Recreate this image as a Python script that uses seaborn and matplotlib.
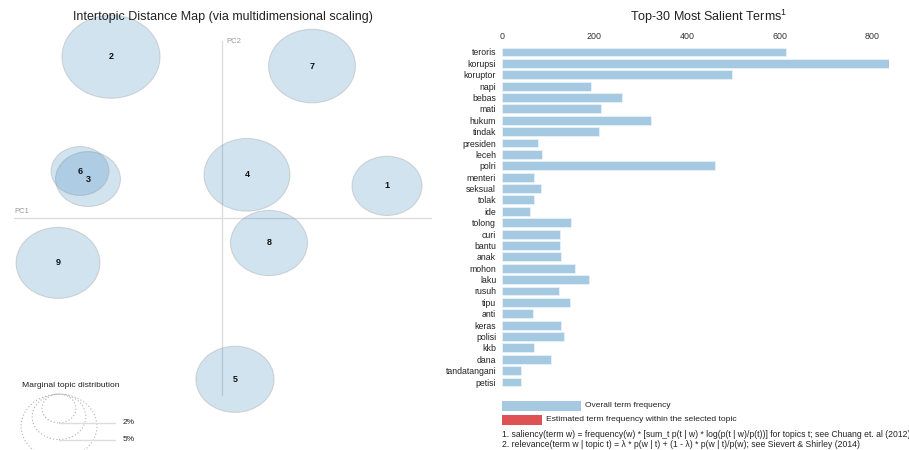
import matplotlib
matplotlib.use("Agg")
import matplotlib.pyplot as plt
from matplotlib.patches import Ellipse, Rectangle
import numpy as np
import pandas as pd
import seaborn as sns

sns.set_theme(style="white")
plt.rcParams["font.family"] = ["Liberation Sans", "DejaVu Sans"]
plt.rcParams["mathtext.fontset"] = "custom"
plt.rcParams["mathtext.rm"] = "Liberation Sans"

# topic map (PC coordinates and marginal topic share in %)
topic_ids = [1, 2, 3, 4, 5, 6, 7, 8, 9]
topic_x = [0.330, -0.222, -0.268, 0.050, 0.026, -0.284, 0.180, 0.094, -0.328]
topic_y = [0.076, 0.381, 0.092, 0.102, -0.381, 0.111, 0.359, -0.059, -0.106]
topic_pct = [8.5, 16.7, 7.3, 12.8, 10.6, 5.8, 13.1, 10.3, 12.2]

# top-30 salient terms
terms = ["teroris", "korupsi", "koruptor", "napi", "bebas", "mati", "hukum", "tindak",
         "presiden", "leceh", "polri", "menteri", "seksual", "tolak", "ide", "tolong",
         "curi", "bantu", "anak", "mohon", "laku", "rusuh", "tipu", "anti", "keras",
         "polisi", "kkb", "dana", "tandatangani", "petisi"]
term_freq = [613, 836, 498, 193, 260, 214, 322, 211, 78, 86, 460, 69, 84, 70, 60, 150,
             125, 125, 127, 158, 189, 124, 147, 67, 127, 134, 70, 106, 41, 41]
ticks = [0, 200, 400, 600, 800]
legend_pcts = [2, 5, 10]

BAR = "#a5c9e1"
RED = "#de5253"
K = 0.024  # radius per sqrt(%)

W, H = 909, 450
fig = plt.figure(figsize=(W / 100, H / 100), dpi=100)

# ---- left: intertopic distance map ----
ax = fig.add_axes([0, 0, 440 / W, 1])
ax.set_xlim(-0.444, 0.436)
ax.set_ylim(-0.548, 0.515)
ax.axis("off")

ax.plot([-0.416, 0.418], [0, 0], color="#dcdcdc", lw=1, zorder=1)
ax.plot([0, 0], [-0.418, 0.418], color="#dcdcdc", lw=1, zorder=1)
ax.text(-0.416, 0.008, "PC1", fontsize=5.5, color="#999999", ha="left", va="bottom")
ax.text(0.008, 0.418, "PC2", fontsize=5.5, color="#999999", ha="left", va="center")

for tid, x, y, p in zip(topic_ids, topic_x, topic_y, topic_pct):
    r = K * np.sqrt(p)
    ax.add_patch(Ellipse((x, y), 2 * r, 2 * r, facecolor=(0.122, 0.467, 0.706, 0.2),
                         edgecolor=(0.6, 0.6, 0.6, 0.35), lw=0.8, zorder=2))
    ax.text(x, y, str(tid), fontsize=6.5, fontweight="bold", ha="center", va="center",
            color="#111111", zorder=3)

# marginal topic distribution legend
ax.text(-0.400, -0.395, "Marginal topic distribution", fontsize=6.1, color="#222222",
        ha="left", va="center")
top = -0.416
for p in legend_pcts:
    r = K * np.sqrt(p)
    ax.add_patch(Ellipse((-0.326, top - r), 2 * r, 2 * r, fill=False, edgecolor="#b0b0b0",
                         lw=0.8, ls=(0, (1, 2))))
    if p < 10:
        ax.plot([-0.326, -0.214], [top - 2 * r, top - 2 * r], color="#dddddd", lw=1)
        ax.text(-0.198, top - 2 * r, f"{p}%", fontsize=6, color="#222222", va="center")

fig.text(223 / W, 1 - 17 / H, "Intertopic Distance Map (via multidimensional scaling)",
         fontsize=9, ha="center", va="center", color="#222222")

# ---- right: salient terms ----
df = pd.DataFrame({"term": terms, "freq": term_freq})
bx = fig.add_axes([501.7 / W, 1 - 387.7 / H, 387.4 / W, 341.4 / H])
sns.barplot(data=df, x="freq", y="term", color=BAR, saturation=1, width=0.78,
            edgecolor="#e8f1f8", linewidth=0.6, ax=bx)
bx.set_xlim(0, 836)
bx.set_xticks(ticks)
bx.set_xlabel("")
bx.set_ylabel("")
bx.xaxis.tick_top()
bx.tick_params(axis="x", length=0, pad=4, labelsize=6.4, labelcolor="#333333")
bx.tick_params(axis="y", length=0, pad=4, labelsize=6.3, labelcolor="#222222")
for s in bx.spines.values():
    s.set_visible(False)
bx.grid(False)

fig.text(709 / W, 1 - 17 / H, r"Top-30 Most Salient Terms$^{1}$", fontsize=9,
         ha="center", va="center", color="#222222")

fig.patches.append(Rectangle((502 / W, 1 - 410.7 / H), 78.7 / W, 10 / H,
                             transform=fig.transFigure, facecolor=BAR, edgecolor="none"))
fig.patches.append(Rectangle((502 / W, 1 - 424.7 / H), 39.6 / W, 10 / H,
                             transform=fig.transFigure, facecolor=RED, edgecolor="none"))
fig.text(584.7 / W, 1 - 405.5 / H, "Overall term frequency", fontsize=6, va="center",
         color="#222222")
fig.text(545.7 / W, 1 - 419.5 / H, "Estimated term frequency within the selected topic",
         fontsize=6.1, va="center", color="#222222")
fig.text(502 / W, 1 - 434.5 / H,
         "1. saliency(term w) = frequency(w) * [sum_t p(t | w) * log(p(t | w)/p(t))] for topics t; see Chuang et. al (2012)",
         fontsize=6.2, va="center", color="#222222")
fig.text(502 / W, 1 - 444.5 / H,
         "2. relevance(term w | topic t) = \u03bb * p(w | t) + (1 - \u03bb) * p(w | t)/p(w); see Sievert & Shirley (2014)",
         fontsize=6.2, va="center", color="#222222")

fig.savefig("out.png", dpi=100)
